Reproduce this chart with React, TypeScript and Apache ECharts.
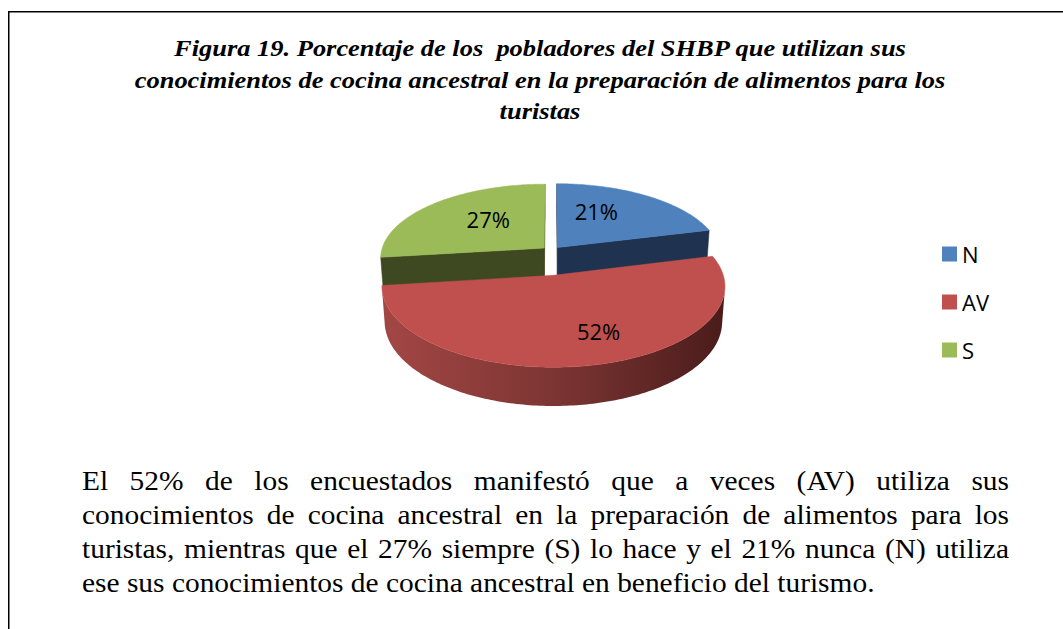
import React, { useEffect, useRef } from 'react';
import * as echarts from 'echarts';

const categories = ['N', 'AV', 'S'];
const values = [21, 52, 27];
const topColors = ['#4F81BD', '#C0504D', '#9BBB59'];
const cutColors = ['#1F3350', '#5A2422', '#3E4922'];
const wallStops = [
  ['#3A5F8C', '#2A4567', '#1C2E46'],
  ['#A34745', '#7C3533', '#4A1C1B'],
  ['#738A41', '#56672F', '#394520'],
];
const explode = [0.06, 0.32, 0.06];
const explodeAngle: (number | null)[] = [null, 178, null];
const labelShift = [
  [-8, -9],
  [28, 14],
  [2, -6],
];

const titleLines = [
  'Figura 19. Porcentaje de los  pobladores del SHBP que utilizan sus',
  'conocimientos de cocina ancestral en la preparación de alimentos para los',
  'turistas',
];
const paragraphLines = [
  'El 52% de los encuestados manifestó que a veces (AV) utiliza sus',
  'conocimientos de cocina ancestral en la preparación de alimentos para los',
  'turistas, mientras que el 27% siempre (S) lo hace y el 21% nunca (N) utiliza',
  'ese sus conocimientos de cocina ancestral en beneficio del turismo.',
];

// projection parameters
const CX = 551.5;
const CY = 251;
const SINP = 0.448;
const COSP = Math.sqrt(1 - SINP * SINP);
const DIST = 6.877;
const FOCAL = 1120;
const HEIGHT = 0.237;

function project(x: number, y: number, z: number): number[] {
  const vy = y - DIST * SINP;
  const vz = z - DIST * COSP;
  const depth = -vy * SINP - vz * COSP;
  const w = vy * COSP - vz * SINP;
  return [CX + (FOCAL * x) / depth, CY - (FOCAL * w) / depth];
}

const CAM = [0, DIST * SINP, DIST * COSP];

function makeRenderItem(k: number) {
  return (params: any, api: any) => {
    const v = api.value(0);
    const total = values.reduce((a, b) => a + b, 0);
    let before = 0;
    for (let i = 0; i < k; i++) before += values[i];
    const s = (before / total) * 2 * Math.PI;
    const e = s + (v / total) * 2 * Math.PI;
    const m = (s + e) / 2;
    const ea = explodeAngle[k] !== null ? ((explodeAngle[k] as number) * Math.PI) / 180 : m;
    const ox = explode[k] * Math.sin(ea);
    const oz = -explode[k] * Math.cos(ea);
    const base = k === 1 ? 20 : 0;
    const children: any[] = [];

    const steps = Math.max(8, Math.ceil(((e - s) * 180) / Math.PI));
    const angles: number[] = [];
    for (let i = 0; i <= steps; i++) angles.push(s + ((e - s) * i) / steps);

    // outer wall (visible runs)
    let run: number[] = [];
    const flush = () => {
      if (run.length >= 2) {
        const topPts = run.map((t) => project(ox + Math.sin(t), 0, oz - Math.cos(t)));
        const botPts = run.map((t) => project(ox + Math.sin(t), -HEIGHT, oz - Math.cos(t))).reverse();
        const stops = wallStops[k];
        children.push({
          type: 'polygon',
          shape: { points: topPts.concat(botPts) },
          style: {
            fill: new echarts.graphic.LinearGradient(0, 0, 1, 0, [
              { offset: 0, color: stops[0] },
              { offset: 0.5, color: stops[1] },
              { offset: 1, color: stops[2] },
            ]),
          },
          z2: base + 1,
        });
      }
      run = [];
    };
    angles.forEach((t) => {
      const nx = Math.sin(t);
      const nz = -Math.cos(t);
      const px = ox + nx;
      const pz = oz + nz;
      const facing = (CAM[0] - px) * nx + (CAM[2] - pz) * nz > 0;
      if (facing) run.push(t);
      else flush();
    });
    flush();

    // cut faces
    const cut = (t: number, sign: number) => {
      const nx = sign * Math.cos(t);
      const nz = sign * Math.sin(t);
      const px = ox + 0.5 * Math.sin(t);
      const pz = oz - 0.5 * Math.cos(t);
      const facing = (CAM[0] - px) * nx + (CAM[2] - pz) * nz > 0;
      if (!facing) return;
      const pts = [
        project(ox, 0, oz),
        project(ox + Math.sin(t), 0, oz - Math.cos(t)),
        project(ox + Math.sin(t), -HEIGHT, oz - Math.cos(t)),
        project(ox, -HEIGHT, oz),
      ];
      children.push({
        type: 'polygon',
        shape: { points: pts },
        style: { fill: cutColors[k], stroke: cutColors[k], lineWidth: 0.5 },
        z2: base + 1,
      });
    };
    cut(s, -1);
    cut(e, 1);

    // top face
    const top = [project(ox, 0, oz)].concat(
      angles.map((t) => project(ox + Math.sin(t), 0, oz - Math.cos(t)))
    );
    children.push({
      type: 'polygon',
      shape: { points: top },
      style: { fill: topColors[k], stroke: topColors[k], lineWidth: 0.5 },
      z2: base + 2,
    });

    // label
    const lr = 0.5;
    const lp = project(ox + lr * Math.sin(m), 0, oz - lr * Math.cos(m));
    children.push({
      type: 'text',
      style: {
        text: v + '%',
        x: lp[0] + labelShift[k][0],
        y: lp[1] + labelShift[k][1],
        fill: '#000000',
        fontFamily: 'Open Sans',
        fontSize: 22,
        textAlign: 'center',
        textVerticalAlign: 'middle',
        align: 'center',
        verticalAlign: 'middle',
      },
      z2: 100,
    });

    return { type: 'group', children };
  };
}

function measure(text: string, font: string): number {
  const c = document.createElement('canvas');
  const ctx = c.getContext('2d');
  if (!ctx) return text.length * 12;
  ctx.font = font;
  return ctx.measureText(text).width;
}

export default function App() {
  const ref = useRef<HTMLDivElement>(null);
  useEffect(() => {
    if (!ref.current) return;
    const chart = echarts.init(ref.current, undefined, { renderer: 'svg' });

    const graphics: any[] = [];
    graphics.push({
      type: 'rect',
      shape: { x: 8.75, y: 11.75, width: 1200, height: 800 },
      style: { fill: 'none', stroke: '#000000', lineWidth: 1.5 },
      silent: true,
    });
    const titleY = [48, 80, 111];
    titleLines.forEach((t, i) => {
      graphics.push({
        type: 'text',
        x: 540,
        y: titleY[i],
        scaleX: 1.15,
        style: {
          text: t,
          fill: '#000000',
          fontFamily: 'Liberation Serif',
          fontSize: 23,
          fontWeight: 'bold',
          fontStyle: 'italic',
          textAlign: 'center',
          textVerticalAlign: 'middle',
          align: 'center',
          verticalAlign: 'middle',
        },
      });
    });

    const pSize = 27;
    const pScale = 1.09;
    const pFont = pSize + 'px "Liberation Serif"';
    const pLeft = 82;
    const pRight = 1009;
    const pY = [481, 515, 549, 583];
    paragraphLines.forEach((line, i) => {
      if (i < paragraphLines.length - 1) {
        const words = line.split(' ');
        const widths = words.map((w) => measure(w, pFont) * pScale);
        const sum = widths.reduce((a, b) => a + b, 0);
        const gap = (pRight - pLeft - sum) / (words.length - 1);
        let x = pLeft;
        words.forEach((w, j) => {
          graphics.push({
            type: 'text',
            x,
            y: pY[i],
            scaleX: pScale,
            style: {
              text: w,
              fill: '#000000',
              fontFamily: 'Liberation Serif',
              fontSize: pSize,
              textAlign: 'left',
              textVerticalAlign: 'middle',
              align: 'left',
              verticalAlign: 'middle',
            },
          });
          x += widths[j] + gap;
        });
      } else {
        graphics.push({
          type: 'text',
          x: pLeft,
          y: pY[i],
          scaleX: pScale,
          style: {
            text: line,
            fill: '#000000',
            fontFamily: 'Liberation Serif',
            fontSize: pSize,
            textAlign: 'left',
            textVerticalAlign: 'middle',
            align: 'left',
            verticalAlign: 'middle',
          },
        });
      }
    });

    chart.setOption({
      animation: false,
      backgroundColor: '#ffffff',
      legend: {
        orient: 'vertical',
        left: 942,
        top: 243,
        padding: 0,
        itemWidth: 15,
        itemHeight: 15,
        itemGap: 26,
        icon: 'rect',
        selectedMode: false,
        data: categories,
        textStyle: { fontFamily: 'Open Sans', fontSize: 22, color: '#000000' },
      },
      graphic: graphics,
      series: categories.map((c, k) => ({
        type: 'custom',
        name: c,
        coordinateSystem: 'none',
        itemStyle: { color: topColors[k] },
        data: [values[k]],
        renderItem: makeRenderItem(k),
        silent: true,
      })),
    });
    return () => chart.dispose();
  }, []);
  return (
    <div
      ref={ref}
      style={{ position: 'fixed', left: 0, top: 0, width: 1063, height: 629 }}
    />
  );
}
